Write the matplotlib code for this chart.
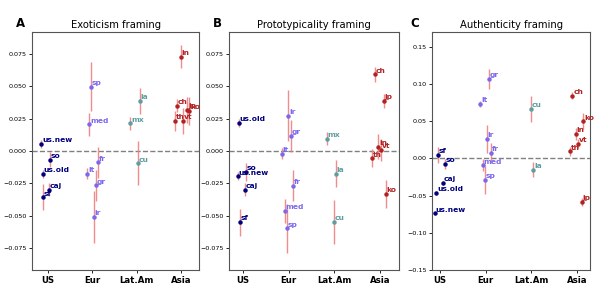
import matplotlib
matplotlib.use("Agg")
import matplotlib.pyplot as plt
import numpy as np

groups = ["US", "Eur", "Lat.Am", "Asia"]
group_colors = {"US": "#00007f", "Eur": "#7b68ee", "Lat.Am": "#5f9ea0", "Asia": "#b22222"}

# Panel A: Exoticism framing
a_labels = ["us.new", "so", "us.old", "caj", "sf",
            "sp", "med", "fr", "it", "gr", "ir",
            "la", "mx", "cu",
            "in", "ch", "jp", "ko", "th", "vt"]
a_groups = ["US"] * 5 + ["Eur"] * 6 + ["Lat.Am"] * 3 + ["Asia"] * 6
a_values = [0.0054, -0.0067, -0.0175, -0.0300, -0.0358,
            0.0497, 0.0206, -0.0088, -0.0175, -0.0265, -0.0510,
            0.0389, 0.0214, -0.0095,
            0.0729, 0.0348, 0.0318, 0.0310, 0.0232, 0.0232]
a_errors = [0.003, 0.006, 0.003, 0.005, 0.010,
            0.019, 0.009, 0.012, 0.004, 0.012, 0.020,
            0.010, 0.005, 0.017,
            0.009, 0.005, 0.010, 0.011, 0.008, 0.010]
a_jitter = [-0.15, 0.05, -0.12, 0.03, -0.11,
            -0.02, -0.07, 0.14, -0.11, 0.08, 0.03,
            0.08, -0.14, 0.02,
            0.0, -0.08, 0.14, 0.19, -0.13, 0.05]

# Panel B: Prototypicality framing
b_labels = ["us.old", "so", "us.new", "caj", "sf",
            "ir", "gr", "it", "fr", "med", "sp",
            "mx", "la", "cu",
            "ch", "jp", "in", "vt", "th", "ko"]
b_groups = ["US"] * 5 + ["Eur"] * 6 + ["Lat.Am"] * 3 + ["Asia"] * 6
b_values = [0.0219, -0.0160, -0.0196, -0.0300, -0.0550,
            0.0273, 0.0116, -0.0020, -0.0270, -0.0464, -0.0598,
            0.0095, -0.0175, -0.0550,
            0.0593, 0.0389, 0.0034, 0.0008, -0.0057, -0.0332]
b_errors = [0.003, 0.007, 0.003, 0.005, 0.0105,
            0.0197, 0.012, 0.004, 0.012, 0.009, 0.019,
            0.005, 0.0105, 0.017,
            0.006, 0.0055, 0.0095, 0.0085, 0.007, 0.011]
b_jitter = [-0.09, 0.07, -0.12, 0.05, -0.07,
            -0.01, 0.04, -0.15, 0.09, -0.09, -0.04,
            -0.17, 0.03, -0.02,
            -0.12, 0.08, -0.04, 0.02, -0.17, 0.12]

# Panel C: Authenticity framing
c_labels = ["sf", "so", "caj", "us.old", "us.new",
            "gr", "it", "ir", "fr", "med", "sp",
            "cu", "la",
            "ch", "ko", "in", "vt", "th", "jp"]
c_groups = ["US"] * 5 + ["Eur"] * 6 + ["Lat.Am"] * 2 + ["Asia"] * 6
c_values = [0.0049, -0.0076, -0.0330, -0.0465, -0.0738,
            0.1070, 0.0733, 0.0264, 0.0072, -0.0094, -0.0286,
            0.0666, -0.0152,
            0.0845, 0.0500, 0.0326, 0.0197, 0.0094, -0.0586]
c_errors = [0.011, 0.007, 0.003, 0.003, 0.002,
            0.013, 0.004, 0.019, 0.013, 0.008, 0.019,
            0.017, 0.010,
            0.005, 0.011, 0.008, 0.006, 0.006, 0.006]
c_jitter = [-0.05, 0.10, 0.06, -0.08, -0.11,
            0.07, -0.12, 0.02, 0.12, -0.07, -0.02,
            -0.01, 0.04,
            -0.10, 0.14, -0.03, 0.02, -0.15, 0.10]

panels = [
    ("A", "Exoticism framing", a_labels, a_groups, a_values, a_errors, a_jitter,
     (-0.092, 0.092), [-0.075, -0.05, -0.025, 0, 0.025, 0.05, 0.075], "{:.3f}", (-0.36, 3.41)),
    ("B", "Prototypicality framing", b_labels, b_groups, b_values, b_errors, b_jitter,
     (-0.092, 0.092), [-0.075, -0.05, -0.025, 0, 0.025, 0.05, 0.075], "{:.3f}", (-0.30, 3.41)),
    ("C", "Authenticity framing", c_labels, c_groups, c_values, c_errors, c_jitter,
     (-0.15, 0.17), [-0.15, -0.10, -0.05, 0, 0.05, 0.10, 0.15], "{:.2f}", (-0.17, 3.29)),
]

axes_rects = [
    (0.0535, 0.0625, 0.2795, 0.8265),
    (0.3835, 0.0625, 0.2835, 0.8265),
    (0.7230, 0.0625, 0.2640, 0.8265),
]
letter_x = [20 / 598, 217 / 598, 415 / 598]

fig = plt.figure(figsize=(5.98, 2.88), dpi=100)

for rect, lx, (letter, title, labels, grps, vals, errs, jit, ylim, yticks, fmt, xlim) in zip(axes_rects, letter_x, panels):
    ax = fig.add_axes(rect)
    ax.axhline(0, color="gray", linestyle="--", linewidth=1, zorder=1)
    for lab, g, v, e, j in zip(labels, grps, vals, errs, jit):
        x = groups.index(g) + j
        ax.errorbar([x], [v], yerr=[e], fmt="none", ecolor="#f08080", elinewidth=1.0,
                    alpha=0.9, zorder=2)
        ax.plot([x], [v], "o", color=group_colors[g], markersize=2.2, zorder=3)
        ax.annotate(lab, (x, v), xytext=(0.5, 0.5), textcoords="offset points",
                    ha="left", va="bottom", fontsize=5.4, fontweight="bold",
                    color=group_colors[g], zorder=4)
    ax.set_ylim(*ylim)
    ax.set_xlim(*xlim)
    ax.set_yticks(yticks)
    ax.set_yticklabels([fmt.format(t).replace("-", "\u2212") for t in yticks], fontsize=4.6)
    ax.set_xticks(range(len(groups)))
    ax.set_xticklabels(groups, fontsize=6.2, fontweight="bold")
    ax.tick_params(axis="y", length=2.5, width=0.6, pad=1.5)
    ax.tick_params(axis="x", length=2.5, width=0.6, pad=1.5)
    for s in ax.spines.values():
        s.set_color("#555555")
        s.set_linewidth(0.8)
    ax.set_title(title, fontsize=7.2, pad=3)
    fig.text(lx, (288 - 27) / 288, letter,
             fontsize=8.5, fontweight="bold", ha="center", va="baseline")

fig.savefig("out.png", dpi=100)
